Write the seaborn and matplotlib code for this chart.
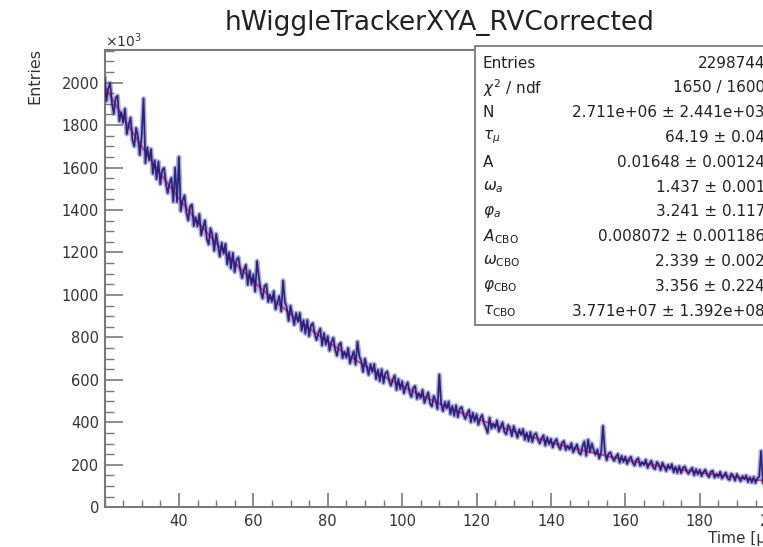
import numpy as np
import pandas as pd
import matplotlib
matplotlib.use("Agg")
import matplotlib.pyplot as plt
from matplotlib.patches import Rectangle
from matplotlib.ticker import MultipleLocator, FixedLocator
import seaborn as sns

# ---------------- data (units: x10^3 entries per bin) ----------------
bin_start = 20.0     # first bin centre [us]
bin_width = 0.5      # [us]

counts_020_040 = [2027, 1913, 1971, 1998, 1904, 1854, 1928, 1938, 1818, 1861,
                  1811, 1877, 1757, 1801, 1835, 1732, 1700, 1786, 1746, 1659,
                  1751, 1925, 1621, 1695, 1634, 1687, 1571, 1634, 1545, 1628,
                  1522, 1588, 1598, 1526, 1480, 1527, 1551, 1439, 1600, 1438]
counts_040_060 = [1650, 1395, 1446, 1469, 1392, 1351, 1416, 1426, 1325, 1366,
                  1323, 1381, 1281, 1319, 1351, 1265, 1238, 1314, 1282, 1208,
                  1288, 1235, 1181, 1246, 1195, 1241, 1144, 1201, 1125, 1198,
                  1108, 1166, 1177, 1117, 1080, 1120, 1142, 1048, 1114, 1049]
counts_060_080 = [1097, 1016, 1160, 1082, 1017, 984, 1041, 1050, 967, 1001,
                  967, 1018, 932, 967, 995, 922, 1068, 967, 940, 878,
                  949, 904, 859, 915, 874, 915, 832, 881, 818, 882,
                  806, 857, 867, 818, 788, 821, 842, 762, 820, 766]
counts_080_100 = [806, 738, 778, 798, 742, 714, 765, 775, 703, 733,
                  705, 750, 678, 709, 734, 672, 780, 711, 690, 638,
                  700, 662, 624, 674, 637, 675, 604, 648, 594, 650,
                  585, 631, 640, 597, 573, 602, 621, 553, 604, 557]
counts_100_120 = [593, 537, 570, 588, 542, 520, 561, 571, 511, 538,
                  514, 553, 492, 518, 541, 490, 475, 524, 506, 463,
                  625, 485, 453, 496, 466, 498, 439, 477, 431, 480,
                  425, 465, 472, 436, 416, 443, 459, 401, 445, 405]
counts_120_140 = [438, 389, 420, 435, 396, 376, 350, 422, 371, 394,
                  375, 409, 357, 380, 400, 356, 344, 387, 374, 336,
                  382, 355, 328, 366, 341, 368, 318, 351, 312, 354,
                  308, 341, 349, 320, 301, 325, 339, 291, 329, 297]
counts_140_160 = [322, 282, 308, 321, 289, 273, 304, 312, 270, 290,
                  273, 302, 259, 279, 296, 259, 249, 286, 310, 243,
                  318, 260, 300, 270, 248, 272, 230, 258, 383, 262,
                  222, 253, 259, 233, 219, 239, 251, 210, 242, 214]
counts_160_180 = [238, 204, 227, 238, 210, 197, 224, 231, 195, 213,
                  199, 224, 186, 205, 219, 188, 180, 213, 201, 175,
                  210, 190, 171, 200, 182, 203, 165, 190, 162, 193,
                  161, 186, 192, 169, 158, 175, 186, 151, 179, 155]
counts_180_200 = [176, 147, 166, 177, 153, 142, 167, 172, 140, 157,
                  144, 167, 136, 150, 163, 136, 129, 158, 149, 126,
                  156, 139, 123, 147, 132, 150, 119, 141, 117, 143,
                  115, 137, 143, 265, 114, 129, 139, 108, 132, 113]
counts_200_203 = [130, 105, 122, 132, 111, 102]

fit_time = [20, 25, 30, 35, 40, 45, 50, 55, 60, 65, 70, 75, 80, 85, 90, 95,
            100, 105, 110, 115, 120, 125, 130, 135, 140, 145, 150, 155, 160,
            165, 170, 175, 180, 185, 190, 195, 200, 205]
fit_values = [1985, 1837, 1699, 1572, 1454, 1345, 1244, 1151, 1065, 985, 911,
              843, 780, 721, 667, 617, 571, 528, 489, 452, 418, 387, 358, 331,
              306, 283, 262, 242, 224, 207, 192, 178, 164, 152, 141, 130, 120, 111]

y_ticks = [0, 200, 400, 600, 800, 1000, 1200, 1400, 1600, 1800, 2000]
x_ticks = [40, 60, 80, 100, 120, 140, 160, 180, 200]

stats_labels = ["Entries", r"$\chi^{2}$ / ndf", "N", r"$\tau_{\mu}$", "A",
                r"$\omega_{a}$", r"$\varphi_{a}$", r"$A_{\mathrm{CBO}}$",
                r"$\omega_{\mathrm{CBO}}$", r"$\varphi_{\mathrm{CBO}}$",
                r"$\tau_{\mathrm{CBO}}$"]
stats_values = ["2298744", "1650 / 1600", "2.711e+06 \u00b1 2.441e+03",
                "64.19 \u00b1 0.04", "0.01648 \u00b1 0.00124",
                "1.437 \u00b1 0.001", "3.241 \u00b1 0.117",
                "0.008072 \u00b1 0.001186", "2.339 \u00b1 0.002",
                "3.356 \u00b1 0.224", "3.771e+07 \u00b1 1.392e+08"]

title = "hWiggleTrackerXYA_RVCorrected"

# ---------------- style ----------------
sns.set_style("ticks")
plt.rcParams["font.family"] = ["DejaVu Sans"]
plt.rcParams["mathtext.fontset"] = "dejavusans"

counts = (counts_020_040 + counts_040_060 + counts_060_080 + counts_080_100 +
          counts_100_120 + counts_120_140 + counts_140_160 + counts_160_180 +
          counts_180_200 + counts_200_203)
time = bin_start + bin_width * np.arange(len(counts))
hist_df = pd.DataFrame({"time": time, "counts": counts})
fit_df = pd.DataFrame({"time": fit_time, "fit": fit_values})

W, H = 763, 547
fig = plt.figure(figsize=(W / 100, H / 100), dpi=100)
fig.patch.set_facecolor("white")

ax_left, ax_right, ax_top, ax_bottom = 104.5, 829.9, 49.5, 507.3
ax = fig.add_axes([ax_left / W, 1 - ax_bottom / H,
                   (ax_right - ax_left) / W, (ax_bottom - ax_top) / H])

# soft halo + dark core of the histogram line, fit in between
sns.lineplot(data=hist_df, x="time", y="counts", ax=ax, color="#5e58c4",
             lw=3.4, alpha=0.5, estimator=None, errorbar=None, zorder=2)
sns.lineplot(data=fit_df, x="time", y="fit", ax=ax, color="#e0306e",
             lw=1.3, estimator=None, errorbar=None, zorder=3)
sns.lineplot(data=hist_df, x="time", y="counts", ax=ax, color="#1a1675",
             lw=1.25, alpha=0.9, estimator=None, errorbar=None, zorder=4)

ax.set_xlim(20, 215)
ax.set_ylim(0, 2156)
ax.set_xlabel("")
ax.set_ylabel("")

frame_c = "#7a7a7a"
for side in ["top", "left", "bottom"]:
    ax.spines[side].set_color(frame_c)
    ax.spines[side].set_linewidth(1.5)
ax.spines["right"].set_visible(False)

ax.xaxis.set_major_locator(FixedLocator(x_ticks))
ax.xaxis.set_minor_locator(MultipleLocator(5))
ax.yaxis.set_major_locator(FixedLocator(y_ticks))
ax.yaxis.set_minor_locator(MultipleLocator(50))

ax.tick_params(axis="x", which="major", direction="in", length=10, width=1.2,
               color=frame_c, labelsize=10.5, labelcolor="#333333", pad=5)
ax.tick_params(axis="x", which="minor", direction="in", length=5.4, width=1.0,
               color=frame_c)
ax.tick_params(axis="y", which="major", direction="in", length=13, width=1.2,
               color=frame_c, labelsize=10.5, labelcolor="#333333", pad=4)
ax.tick_params(axis="y", which="minor", direction="in", length=6.5, width=1.0,
               color=frame_c)
ax.grid(False)

# ---------------- texts ----------------
def fx(px):
    return px / W

def fy(py):
    return 1 - py / H

fig.text(fx(440), fy(23), title, ha="center", va="center", fontsize=19,
         color="#222222")
fig.text(fx(105), fy(47), r"$\times10^{3}$", ha="left", va="baseline",
         fontsize=10, color="#333333")
fig.text(fx(35), fy(48), "Entries", rotation=90, ha="center", va="top",
         fontsize=11.5, color="#333333")
fig.text(fx(708), fy(538), "Time [\u03bcs]", ha="left", va="center",
         fontsize=11, color="#333333")

# stats box
box = Rectangle((fx(475), fy(325)), (800 - 475) / W, (325 - 46) / H,
                transform=fig.transFigure, facecolor="white",
                edgecolor=frame_c, linewidth=1.3, zorder=5)
fig.patches.append(box)
for i, (lab, val) in enumerate(zip(stats_labels, stats_values)):
    yy = 63 + 24.8 * i
    fig.text(fx(483), fy(yy), lab, ha="left", va="center", fontsize=11,
             color="#222222", zorder=6)
    fig.text(fx(765), fy(yy), val, ha="right", va="center", fontsize=11,
             color="#222222", zorder=6)

fig.savefig("out.png", dpi=100)
